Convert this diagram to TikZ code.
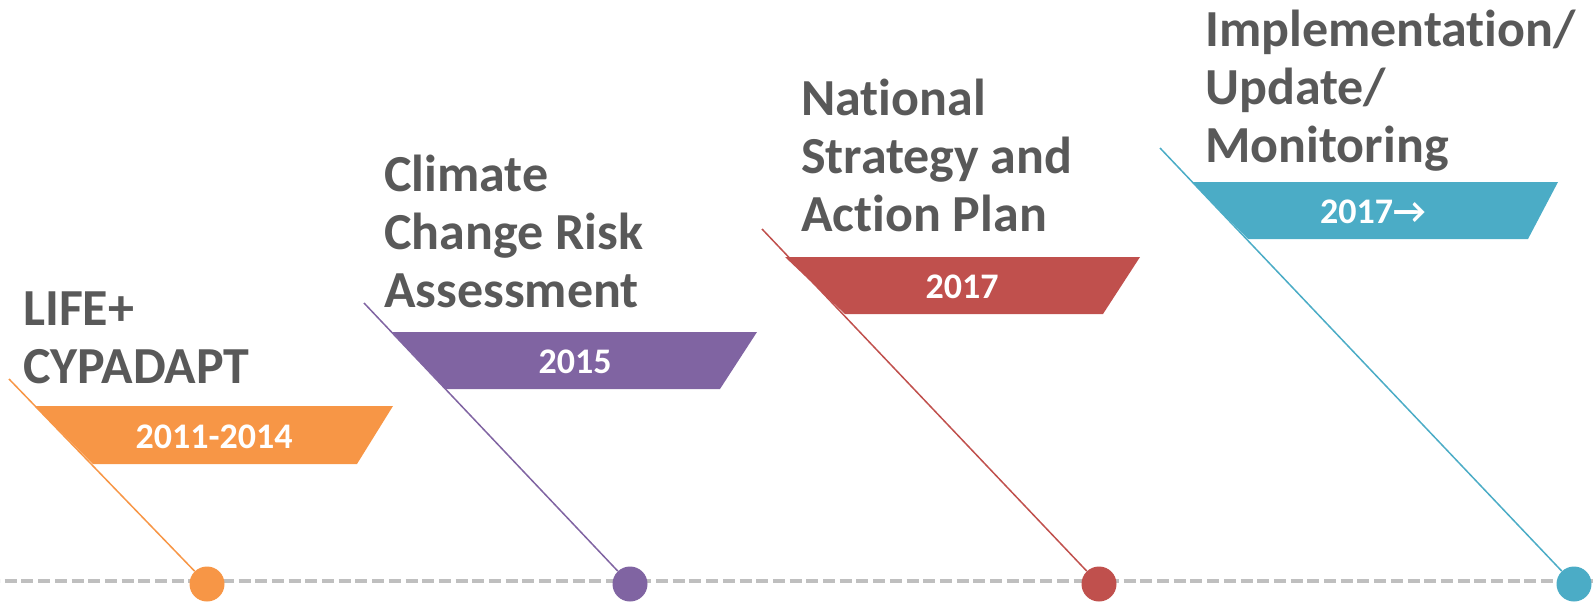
\documentclass[tikz,border=0pt]{standalone}
\usepackage{fontspec}
\setmainfont{Carlito}[RawFeature={-liga;-clig;-dlig;-calt}]
\definecolor{cOrange}{HTML}{F79646}
\definecolor{cPurple}{HTML}{8064A2}
\definecolor{cRed}{HTML}{C0504D}
\definecolor{cTeal}{HTML}{4BACC6}
\definecolor{txtGray}{HTML}{595959}
\definecolor{dashGray}{HTML}{BFBFBF}
\begin{document}
\begin{tikzpicture}[x=1pt,y=-1pt,
  title/.style={anchor=base west, inner sep=0pt, align=left, text=txtGray,
    font=\bfseries\fontsize{52}{58}\selectfont},
  year/.style={inner sep=0pt, text=white, font=\bfseries\fontsize{36}{42}\selectfont},
  dot/.style={circle, minimum size=35pt, inner sep=0pt, fill=#1},
  stem/.style={draw=#1, line width=1.5pt},
  timeline/.style={draw=dashGray, line width=4pt, dash pattern=on 12pt off 4.7pt, dash phase=-4.7pt}]
\useasboundingbox (0,0) rectangle (1593,602);
\coordinate (tl0) at (0,581);
\coordinate (tl1) at (1593,581);
\draw[timeline] (tl0) -- (tl1);

% Orange
\fill[cOrange] (35,406) -- (393,406) -- (357,464) -- (93,464) -- cycle;
\coordinate (s1) at (9,379);
\node[dot=cOrange] (d1) at (207,584) {};
\draw[stem=cOrange] (s1) -- (d1);
\node[year] (y1) at (214,437) {2011-2014};
\node[title] (t1) at (23,383) {LIFE+\\CYPADAPT};

% Purple
\fill[cPurple] (392,332) -- (757,332) -- (720,389) -- (446,389) -- cycle;
\coordinate (s2) at (364,303);
\node[dot=cPurple] (d2) at (630,584) {};
\draw[stem=cPurple] (s2) -- (d2);
\node[year] (y2) at (575,362) {2015};
\node[title] (t2) at (384,307) {Climate\\Change Risk\\Assessment};

% Red
\fill[cRed] (785,257) -- (1140,257) -- (1103,314) -- (845,314) -- cycle;
\coordinate (s3) at (762,229);
\node[dot=cRed] (d3) at (1099,584) {};
\draw[stem=cRed] (s3) -- (d3);
\node[year] (y3) at (962,287) {2017};
\node[title] (t3) at (801,231) {National\\Strategy and\\Action Plan};

% Teal
\fill[cTeal] (1192,182) -- (1558,182) -- (1528,239) -- (1248,239) -- cycle;
\coordinate (s4) at (1160,148);
\node[dot=cTeal] (d4) at (1574,584) {};
\draw[stem=cTeal] (s4) -- (d4);
\node[year] (y4) at (1373,212) {2017→};
\node[title] (t4) at (1205,162) {Implementation/\\Update/\\Monitoring};
\end{tikzpicture}
\end{document}
